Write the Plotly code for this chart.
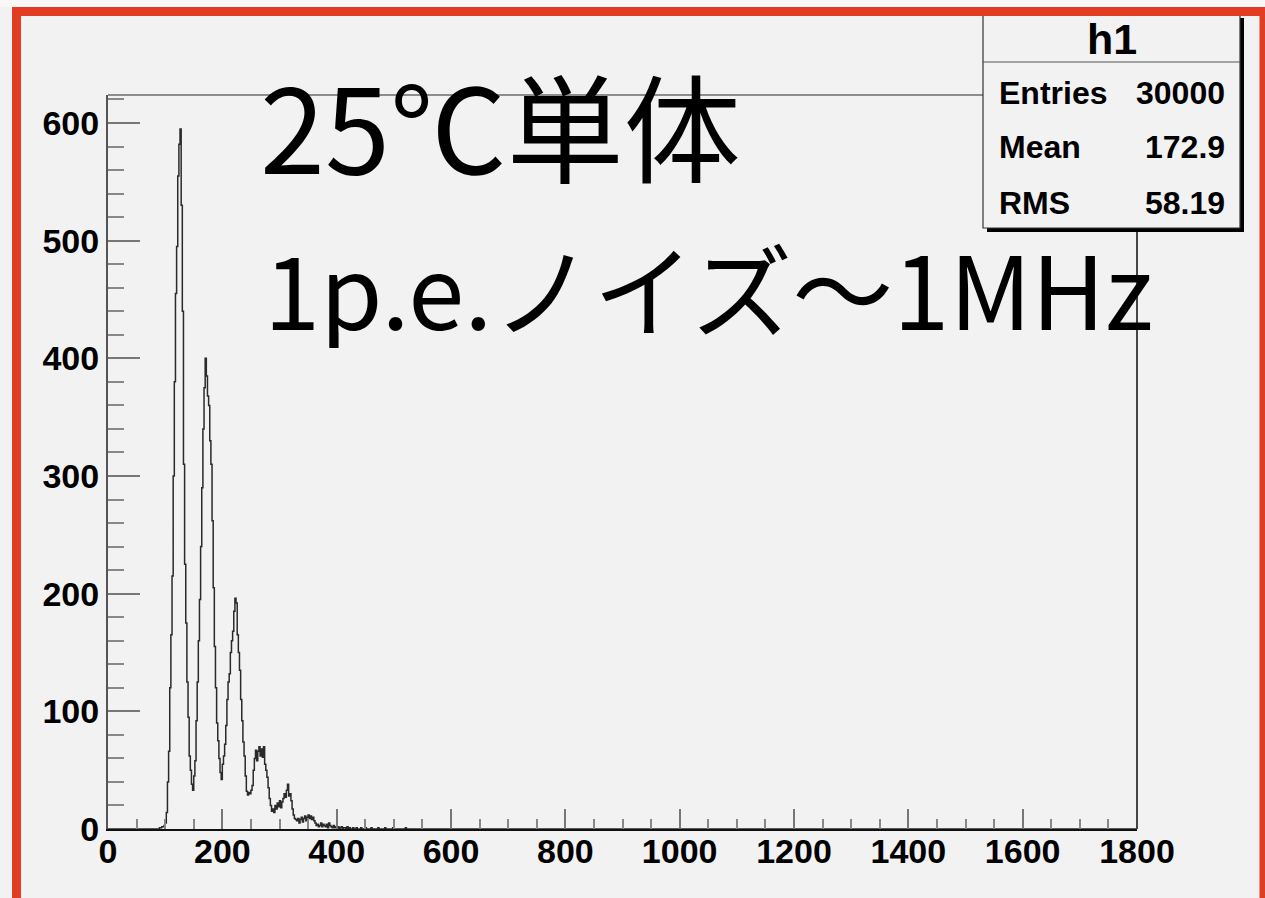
import numpy as np
import plotly.graph_objects as go

# Histogram "h1": 2-unit bins, counts listed from the first filled bin onwards
bin_width = 2
first_bin = 86
counts = [
    0, 0, 1, 1, 2, 2, 3, 5, 14, 40,            # 86-104
    66, 120, 165, 215, 300, 380, 455, 495, 555, 582,   # 106-124
    595, 530, 440, 310, 225, 175, 125, 95, 62, 50,     # 126-144
    38, 33, 45, 58, 92, 125, 160, 195, 240, 290,       # 146-164
    340, 375, 400, 385, 368, 360, 330, 310, 262, 205,  # 166-184
    155, 120, 90, 75, 60, 48, 42, 55, 62, 72,          # 186-204
    88, 110, 125, 132, 150, 160, 168, 185, 196, 192,   # 206-224
    165, 150, 135, 110, 92, 74, 62, 45, 32, 29,        # 226-244
    31, 30, 33, 37, 50, 60, 67, 58, 66, 70,            # 246-264
    62, 68, 61, 70, 55, 50, 44, 35, 26, 20,            # 266-284
    15, 17, 14, 20, 17, 22, 19, 24, 18, 23,            # 286-304
    26, 30, 27, 33, 38, 28, 30, 24, 17, 12,            # 306-324
    9, 8, 7, 9, 5, 8, 10, 6, 9, 11,                    # 326-344
    7, 10, 12, 9, 11, 8, 10, 7, 5, 3,                  # 346-364
    4, 2, 3, 5, 2, 4, 3, 2, 4, 1,                      # 366-384
    5, 3, 2, 1, 3, 1, 2, 1, 2, 0,                      # 386-404
    1, 2, 0, 1, 1, 0, 2, 0, 1, 0,                      # 406-424
    0, 1, 0, 0, 1, 0, 0, 0, 1, 0,                      # 426-444
    0, 0, 1, 0, 0, 0, 0, 1, 0, 0,                      # 446-464
    0, 0, 0, 1, 0, 0, 0, 0, 0, 1,                      # 466-484
    0, 0, 0, 0, 0, 0, 1, 0, 0, 0,                      # 486-504
    0, 0, 0, 0, 0, 0, 0, 1, 0, 0,                      # 506-524
]

x_min, x_max = 0, 1800
y_max = 623.8
x_ticks = [0, 200, 400, 600, 800, 1000, 1200, 1400, 1600, 1800]
y_ticks = [0, 100, 200, 300, 400, 500, 600]

stats_title = "h1"
stats_rows = [("Entries", "30000"), ("Mean", "172.9"), ("RMS", "58.19")]
note_line1 = "25℃単体"
note_line2 = "1p.e.ノイズ〜1MHz"

# full-range binning, empty outside the filled region
n_bins = (x_max - x_min) // bin_width
full = np.zeros(n_bins)
start = (first_bin - x_min) // bin_width
full[start:start + len(counts)] = counts
edges = x_min + bin_width * np.arange(n_bins + 1)
step_x = edges
step_y = np.append(full, full[-1])

W, H = 1265, 898
ML, MR, MT, MB = 108, 128, 95, 69
PW, PH = W - ML - MR, H - MT - MB


def px(x):
    return (x - ML) / PW


def py(y):
    return (H - MB - y) / PH


BG = "#f2f2f2"
RED = "#e23c23"
FONT = "Liberation Sans"

fig = go.Figure()
fig.add_trace(go.Scatter(
    x=step_x, y=step_y, mode="lines", line_shape="hv",
    line=dict(color="#2a2a2a", width=1.5), hoverinfo="skip", showlegend=False,
))

shapes = []
# top strip above the outer frame
shapes.append(dict(type="rect", xref="paper", yref="paper", x0=px(0), x1=px(W), y0=py(0), y1=py(7),
                   fillcolor="#f8f8f8", line=dict(width=0), layer="below"))
# frame: top and right edges of the plot box
shapes.append(dict(type="line", xref="paper", yref="paper", x0=0, x1=1, y0=1, y1=1,
                   line=dict(color="#8c8c8c", width=2), layer="above"))
shapes.append(dict(type="line", xref="paper", yref="paper", x0=1, x1=1, y0=0, y1=1,
                   line=dict(color="#444444", width=2), layer="above"))
# stats box: shadow, body, divider
shapes.append(dict(type="rect", xref="paper", yref="paper", x0=px(987), x1=px(1244), y0=py(232), y1=py(18),
                   fillcolor="#000000", line=dict(width=0), layer="above"))
shapes.append(dict(type="rect", xref="paper", yref="paper", x0=px(983), x1=px(1240), y0=py(228), y1=py(10),
                   fillcolor=BG, line=dict(color="#333333", width=1.2), layer="above"))
shapes.append(dict(type="line", xref="paper", yref="paper", x0=px(983), x1=px(1240), y0=py(62), y1=py(62),
                   line=dict(color="#555555", width=1.2), layer="above"))
# outer red frame
shapes.append(dict(type="rect", xref="paper", yref="paper", x0=px(16.5), x1=px(1264), y0=py(930), y1=py(11.5),
                   fillcolor="rgba(0,0,0,0)", line=dict(color=RED, width=9), layer="above"))

annotations = []
annotations.append(dict(text=f"<b>{stats_title}</b>", x=px(1112), y=py(39), xref="paper", yref="paper",
                        xanchor="center", yanchor="middle", showarrow=False,
                        font=dict(family=FONT, size=43, color="black")))
row_y = [93, 147, 203]
for (label, value), ry in zip(stats_rows, row_y):
    annotations.append(dict(text=f"<b>{label}</b>", x=px(997), y=py(ry), xref="paper", yref="paper",
                            xanchor="left", yanchor="middle", showarrow=False,
                            font=dict(family=FONT, size=32, color="black")))
    annotations.append(dict(text=f"<b>{value}</b>", x=px(1227), y=py(ry), xref="paper", yref="paper",
                            xanchor="right", yanchor="middle", showarrow=False,
                            font=dict(family=FONT, size=32, color="black")))
annotations.append(dict(text=note_line1, x=px(258), y=py(123), xref="paper", yref="paper",
                        xanchor="left", yanchor="middle", showarrow=False,
                        font=dict(family="Noto Sans CJK JP", size=117, color="black")))
# fixed box height keeps the label's box clear of the stats rows above it
annotations.append(dict(text=note_line2, x=px(262), y=py(286), xref="paper", yref="paper",
                        xanchor="left", yanchor="middle", showarrow=False, height=124,
                        valign="middle",
                        font=dict(family="Noto Sans CJK JP", size=101, color="black")))

fig.update_layout(
    width=W, height=H,
    margin=dict(l=ML, r=MR, t=MT, b=MB, pad=0),
    paper_bgcolor=BG, plot_bgcolor=BG,
    shapes=shapes, annotations=annotations,
    showlegend=False,
)
fig.update_xaxes(
    range=[x_min, x_max], tickvals=x_ticks, ticktext=[str(v) for v in x_ticks],
    ticks="inside", ticklen=20, tickwidth=2, tickcolor="#777777",
    minor=dict(dtick=50, tick0=0, ticks="inside", ticklen=10, tickwidth=2, tickcolor="#888888"),
    showline=True, linecolor="#111111", linewidth=2, mirror=False,
    showgrid=False, zeroline=False, ticklabelstandoff=-9,
    tickfont=dict(family=FONT, size=34, color="black", weight="bold"),
)
fig.update_yaxes(
    range=[0, y_max], tickvals=y_ticks, ticktext=[str(v) for v in y_ticks],
    ticks="inside", ticklen=32, tickwidth=2, tickcolor="#777777",
    minor=dict(dtick=20, tick0=0, ticks="inside", ticklen=16, tickwidth=2, tickcolor="#888888"),
    showline=True, linecolor="#555555", linewidth=2, mirror=False,
    showgrid=False, zeroline=False,
    tickfont=dict(family=FONT, size=34, color="black", weight="bold"),
)

fig.write_html("out.html")
